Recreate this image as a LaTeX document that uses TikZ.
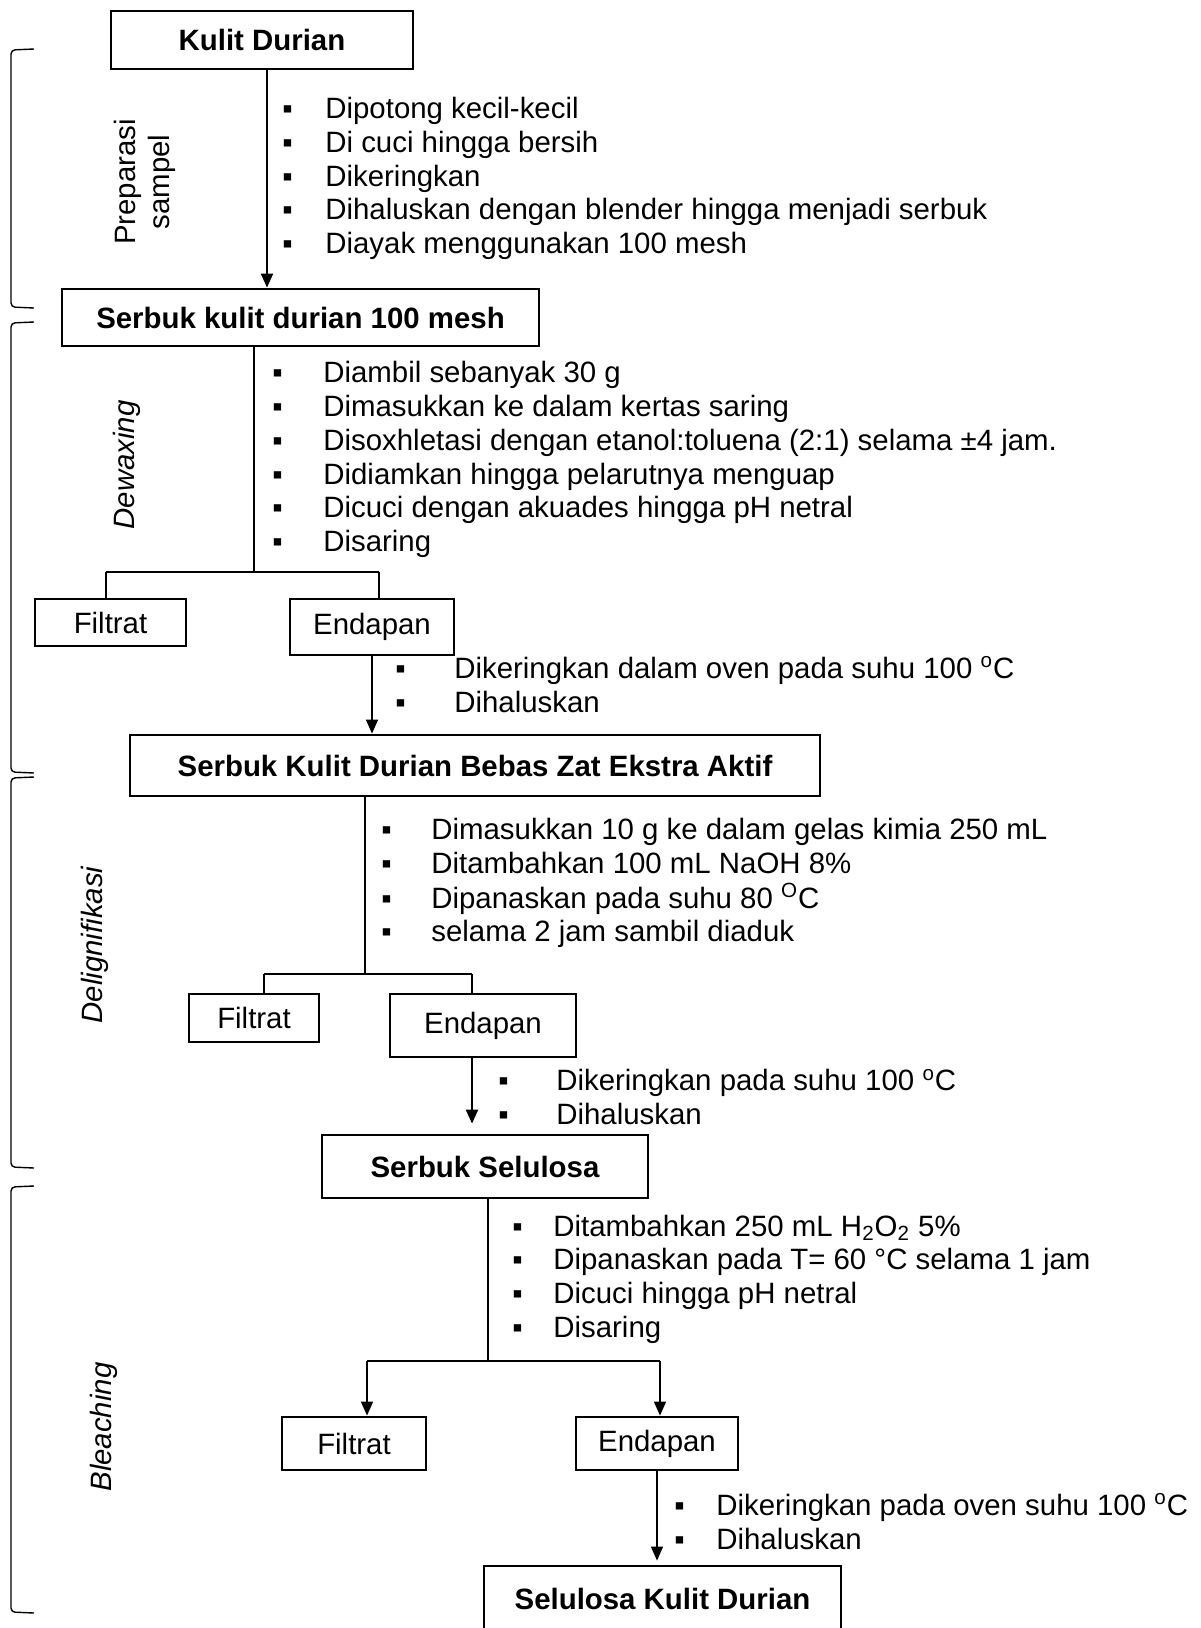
\documentclass[tikz,border=0pt]{standalone}
\usepackage{fontspec}
\setmainfont{Liberation Sans}
\usetikzlibrary{positioning,arrows.meta}
\tikzset{kotak/.style={draw, line width=1.4pt, align=center, inner sep=0pt},
  judul/.style={kotak, font=\fontsize{14.7}{16.85}\selectfont\bfseries},
  tahap/.style={rotate=90, align=center},
  daftar/.style={anchor=west, inner sep=0pt, yshift=-2pt},
  kurung/.style={line width=0.7pt, rounded corners=2pt},
  garis/.style={line width=1pt},
  cabang/.style={line width=0.6pt}}
\newcommand{\langkah}[2]{\begin{tabular}{@{}p{#1}@{}l@{}}#2\end{tabular}}

\begin{document}
\begin{tikzpicture}[x=0.5pt, y=-0.5pt, >={Triangle[length=7pt,width=6pt]}, font=\fontsize{14.7}{16.85}\selectfont]
\useasboundingbox (0,0) rectangle (1200,1628);

% kurung tiap tahap
\draw[kurung] (34,49) -- (11,50) -- (11,307) -- (34,308);
\draw[kurung] (34,322) -- (11,323) -- (11,772) -- (34,773);
\draw[kurung] (34,777) -- (11,778) -- (11,1167) -- (34,1168);
\draw[kurung] (34,1186) -- (11,1187) -- (11,1612) -- (34,1613);

\node[tahap] (prep) at (145,182) {Preparasi\\sampel};
\node[tahap, font=\fontsize{14.7}{16.85}\selectfont\itshape] (dew) at (127,465) {Dewaxing};
\node[tahap, font=\fontsize{14.7}{16.85}\selectfont\itshape] (del) at (95,945) {Delignifikasi};
\node[tahap, font=\fontsize{14.7}{16.85}\selectfont\itshape] (ble) at (104,1427) {Bleaching};

% preparasi sampel
\node[judul, minimum width=151pt, minimum height=29pt] (kulit) at (262,40) {Kulit Durian};
\node[judul, minimum width=238.5pt, minimum height=28.5pt] (serbuk) at (300.5,317.5) {Serbuk kulit durian 100 mesh};
\draw[->, garis] ([xshift=2.5pt]kulit.south) -- ([xshift=2.5pt]kulit.south |- serbuk.north);
\node[daftar] (l1) at (282,175.5) {\langkah{21.5pt}{▪ & Dipotong kecil-kecil\\
  ▪ & Di cuci hingga bersih\\
  ▪ & Dikeringkan\\
  ▪ & Dihaluskan dengan blender hingga menjadi serbuk\\
  ▪ & Diayak menggunakan 100 mesh}};

% dewaxing
\node[kotak, minimum width=75.5pt, minimum height=23.5pt] (filtrat1) at (110.5,622.5) {Filtrat};
\node[kotak, minimum width=82pt, minimum height=28pt] (endapan1) at (372,627) {Endapan};
\node[judul, minimum width=345pt, minimum height=30.5pt] (bebas) at (475,765.5) {Serbuk Kulit Durian Bebas Zat Ekstra Aktif};
\coordinate (c1) at (254,572);
\coordinate (c1a) at (106,572);
\coordinate (c1b) at (379,572);
\draw[garis] (serbuk.south -| c1) -- (c1);
\draw[cabang] (c1a) -- (c1b);
\draw[cabang] (c1a) -- (c1a |- filtrat1.north);
\draw[cabang] (c1b) -- (c1b |- endapan1.north);
\draw[->, line width=0.7pt] (endapan1.south) -- (endapan1.south |- bebas.north);
\node[daftar] (l2) at (272,456.5) {\langkah{25.5pt}{▪ & Diambil sebanyak 30 g\\
  ▪ & Dimasukkan ke dalam kertas saring\\
  ▪ & Disoxhletasi dengan etanol:toluena (2:1) selama ±4 jam.\\
  ▪ & Didiamkan hingga pelarutnya menguap\\
  ▪ & Dicuci dengan akuades hingga pH netral\\
  ▪ & Disaring}};
\node[daftar] (l2b) at (395,684.5) {\langkah{29.5pt}{▪ & Dikeringkan dalam oven pada suhu 100 \textsuperscript{o}C\\
  ▪ & Dihaluskan}};

% delignifikasi
\node[kotak, minimum width=65pt, minimum height=24pt] (filtrat2) at (254,1018) {Filtrat};
\node[kotak, minimum width=93pt, minimum height=31.5pt] (endapan2) at (483,1025.5) {Endapan};
\node[judul, minimum width=163pt, minimum height=31.5pt] (selser) at (485,1166.5) {Serbuk Selulosa};
\coordinate (c2) at (365,974);
\coordinate (c2a) at (264,974);
\coordinate (c2b) at (472,974);
\draw[garis] (bebas.south -| c2) -- (c2);
\draw[cabang] (c2a) -- (c2b);
\draw[cabang] (c2a) -- (c2a |- filtrat2.north);
\draw[cabang] (c2b) -- (c2b |- endapan2.north);
\draw[->, garis, shorten >=5pt] ([xshift=-5.5pt]endapan2.south) -- ([xshift=-5.5pt]endapan2.south |- selser.north);
\node[daftar] (l3) at (381,880) {\langkah{25pt}{▪ & Dimasukkan 10 g ke dalam gelas kimia 250 mL\\
  ▪ & Ditambahkan 100 mL NaOH 8\%\\
  ▪ & Dipanaskan pada suhu 80 \textsuperscript{O}C\\
  ▪ & selama 2 jam sambil diaduk}};
\node[daftar] (l3b) at (498,1097) {\langkah{29pt}{▪ & Dikeringkan pada suhu 100 \textsuperscript{o}C\\
  ▪ & Dihaluskan}};

% bleaching
\node[kotak, minimum width=72pt, minimum height=26.5pt] (filtrat3) at (354,1443.5) {Filtrat};
\node[kotak, minimum width=81pt, minimum height=26.5pt] (endapan3) at (657,1443.5) {Endapan};
\node[judul, minimum width=178.5pt, minimum height=33pt] (akhir) at (662.5,1599) {Selulosa Kulit Durian};
\coordinate (c3) at (488,1361);
\coordinate (c3a) at (367,1361);
\coordinate (c3b) at (660,1361);
\draw[garis] (selser.south -| c3) -- (c3);
\draw[cabang] (c3a) -- (c3b);
\draw[->, line width=0.8pt] (c3a) -- (c3a |- filtrat3.north);
\draw[->, line width=0.8pt] (c3b) -- (c3b |- endapan3.north);
\draw[->, line width=0.7pt, shorten >=2pt] (endapan3.south) -- (endapan3.south |- akhir.north);
\node[daftar] (l4) at (512,1276) {\langkah{20.5pt}{▪ & Ditambahkan 250 mL H\textsubscript{2}O\textsubscript{2} 5\%\\
  ▪ & Dipanaskan pada T= 60 °C selama 1 jam\\
  ▪ & Dicuci hingga pH netral\\
  ▪ & Disaring}};
\node[daftar] (l4b) at (674,1521.5) {\langkah{21pt}{▪ & Dikeringkan pada oven suhu 100 \textsuperscript{o}C\\
  ▪ & Dihaluskan}};
\end{tikzpicture}
\end{document}
